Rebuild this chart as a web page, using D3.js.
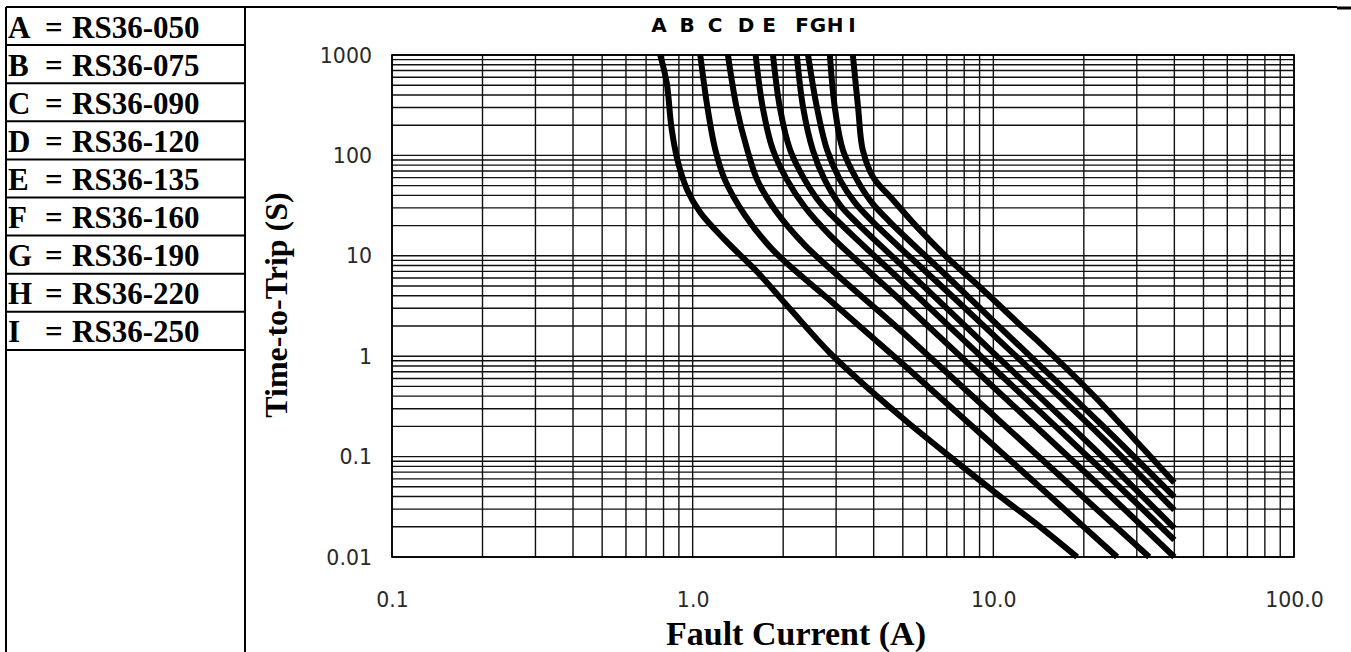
<!DOCTYPE html>
<html>
<head>
<meta charset="utf-8">
<script src="https://cdn.jsdelivr.net/npm/d3@7"></script>
<style>
  body { margin: 0; background: #fff; }
  svg { display: block; }
</style>
</head>
<body>
<script>
(() => {
    // curve letters and part numbers
    let letters = ["A", "B", "C", "D", "E", "F", "G", "H", "I"];
    let parts = ["RS36-050", "RS36-075", "RS36-090", "RS36-120", "RS36-135",
                 "RS36-160", "RS36-190", "RS36-220", "RS36-250"];

    // [fault current (A), time-to-trip (s)]
    let curveA = [[0.78, 1000], [0.82, 525], [0.85, 190], [0.89, 90], [0.96, 45], [1.06, 27],
                  [1.28, 14.4], [1.64, 6.9], [2.11, 2.95], [2.86, 1.08], [3.89, 0.46], [5.28, 0.21],
                  [7.17, 0.10], [10.5, 0.0405], [14.3, 0.02], [19, 0.01]];
    let curveB = [[1.06, 1000], [1.12, 300], [1.19, 113], [1.28, 57], [1.49, 25.5], [1.85, 11.4],
                  [2.86, 3.6], [4.9, 0.88], [10.5, 0.114], [25.8, 0.01]];
    let curveC = [[1.31, 1000], [1.40, 300], [1.52, 113], [1.64, 57], [1.88, 28.6], [2.36, 12.8],
                  [4.9, 1.82], [10.5, 0.226], [33, 0.01]];
    let curveD = [[1.62, 1000], [1.71, 300], [1.85, 113], [2.06, 57], [2.36, 30.6], [2.86, 16.1],
                  [4.9, 3.63], [10.5, 0.43], [22.6, 0.051], [40, 0.01]];
    let curveE = [[1.85, 1000], [1.95, 300], [2.11, 113], [2.36, 57], [2.69, 32.1], [3.21, 18.9],
                  [4.9, 5.74], [10.5, 0.665], [22.6, 0.077], [40, 0.0148]];
    let curveF = [[2.22, 1000], [2.33, 300], [2.51, 113], [2.75, 57], [3.09, 32.1], [3.55, 20.7],
                  [4.9, 8.3], [10.5, 0.94], [22.6, 0.106], [40, 0.0194]];
    let curveG = [[2.42, 1000], [2.59, 300], [2.80, 113], [3.09, 57], [3.47, 33.6], [3.98, 21.7],
                  [7.17, 4.16], [10.5, 1.42], [22.6, 0.164], [40, 0.0294]];
    let curveH = [[2.86, 1000], [2.97, 300], [3.16, 113], [3.52, 57], [3.95, 33.6], [4.53, 21.7],
                  [7.17, 5.87], [10.5, 1.95], [22.6, 0.216], [40, 0.0396]];
    let curveI = [[3.41, 1000], [3.55, 300], [3.68, 113], [3.98, 61], [4.64, 36], [5.57, 19.4],
                  [7.0, 9.7], [9.24, 4.56], [12.5, 1.95], [14.3, 1.35], [21, 0.44], [29, 0.157],
                  [40, 0.055]];
    let curves = [curveA, curveB, curveC, curveD, curveE, curveF, curveG, curveH, curveI];

    let xTicks = [0.1, 1, 10, 100];
    let xTickLabels = ["0.1", "1.0", "10.0", "100.0"];
    let yTicks = [0.01, 0.1, 1, 10, 100, 1000];
    let yTickLabels = ["0.01", "0.1", "1", "10", "100", "1000"];

    let w = 1351;
    let h = 652;
    let left = 392, right = 1294, top = 55, bottom = 557;

    let svg = d3.select("body")
        .append("svg")
        .attr("width", w)
        .attr("height", h);

    // legend table on the left
    let rowH = 38.1;
    let tableTop = 7;
    let table = svg.append("g");
    table.append("line")
        .attr("x1", 6).attr("x2", 6).attr("y1", tableTop).attr("y2", h)
        .attr("stroke", "#000").attr("stroke-width", 2);
    table.append("line")
        .attr("x1", 245).attr("x2", 245).attr("y1", tableTop).attr("y2", h)
        .attr("stroke", "#000").attr("stroke-width", 2);
    table.selectAll(".rowline")
        .data(d3.range(letters.length + 1))
        .enter()
        .append("line")
        .attr("x1", 6).attr("x2", 245)
        .attr("y1", (d) => tableTop + d * rowH)
        .attr("y2", (d) => tableTop + d * rowH)
        .attr("stroke", "#000").attr("stroke-width", 2);

    let rows = table.selectAll(".row")
        .data(letters)
        .enter()
        .append("g")
        .attr("transform", (d, i) => "translate(0," + (tableTop + i * rowH + 30.5) + ")")
        .style("font-family", "'Liberation Serif', 'Times New Roman', serif")
        .style("font-weight", "bold")
        .style("font-size", "31px");
    rows.append("text").attr("x", 8).text((d) => d);
    rows.append("text").attr("x", 45).text("=");
    rows.append("text").attr("x", 72).text((d, i) => parts[i]);

    // top rule
    svg.append("line")
        .attr("x1", 245).attr("x2", 1337).attr("y1", 7).attr("y2", 7)
        .attr("stroke", "#000").attr("stroke-width", 2);
    svg.append("line")
        .attr("x1", 1337).attr("x2", w).attr("y1", 8).attr("y2", 8)
        .attr("stroke", "#000").attr("stroke-width", 3);

    let x = d3.scaleLog().domain([0.1, 100]).range([left, right]);
    let y = d3.scaleLog().domain([0.01, 1000]).range([bottom, top]);

    // grid
    svg.append("g")
        .selectAll("line")
        .data(x.ticks())
        .enter()
        .append("line")
        .attr("x1", (d) => x(d)).attr("x2", (d) => x(d))
        .attr("y1", top).attr("y2", bottom)
        .attr("stroke", "#111").attr("stroke-width", 1.4);
    svg.append("g")
        .selectAll("line")
        .data(y.ticks())
        .enter()
        .append("line")
        .attr("x1", left).attr("x2", right)
        .attr("y1", (d) => y(d)).attr("y2", (d) => y(d))
        .attr("stroke", "#111").attr("stroke-width", 1.4);
    svg.append("rect")
        .attr("x", left).attr("y", top)
        .attr("width", right - left).attr("height", bottom - top)
        .attr("fill", "none").attr("stroke", "#000").attr("stroke-width", 1.7);

    // tick labels
    let xAxis = svg.append("g")
        .attr("transform", "translate(0," + (bottom + 30) + ")")
        .call(d3.axisBottom(x).tickValues(xTicks).tickSize(0)
            .tickFormat((d, i) => xTickLabels[i]));
    let yAxis = svg.append("g")
        .attr("transform", "translate(" + (left - 20) + ",0)")
        .call(d3.axisLeft(y).tickValues(yTicks).tickSize(0)
            .tickFormat((d, i) => yTickLabels[i]));
    [xAxis, yAxis].forEach((g) => {
        g.select(".domain").remove();
        g.selectAll("text")
            .style("font-family", "'DejaVu Sans', Verdana, sans-serif")
            .style("font-size", "20.5px")
            .attr("fill", "#2a2a2a");
    });
    xAxis.selectAll("text").attr("dy", "0.85em");
    yAxis.selectAll("text").attr("x", 0).attr("dy", "0.35em");

    // curves
    let line = d3.line()
        .x((d) => x(d[0]))
        .y((d) => y(d[1]))
        .curve(d3.curveCatmullRom.alpha(0.5));
    svg.append("g")
        .selectAll("path")
        .data(curves)
        .enter()
        .append("path")
        .attr("d", line)
        .attr("fill", "none")
        .attr("stroke", "#000")
        .attr("stroke-width", 6)
        .attr("stroke-linejoin", "round");

    // curve letters above the plot
    let topLabelX = [659, 687, 715, 746, 769, 802, 818, 835, 852];
    svg.append("g")
        .selectAll("text")
        .data(letters)
        .enter()
        .append("text")
        .attr("x", (d, i) => topLabelX[i])
        .attr("y", 32)
        .attr("text-anchor", "middle")
        .style("font-family", "'DejaVu Sans', Arial, sans-serif")
        .style("font-weight", "bold")
        .style("font-size", "20px")
        .text((d) => d);

    // axis titles
    svg.append("text")
        .attr("transform", "translate(287,305) rotate(-90)")
        .attr("text-anchor", "middle")
        .style("font-family", "'Liberation Serif', 'Times New Roman', serif")
        .style("font-weight", "bold")
        .style("font-size", "32px")
        .text("Time-to-Trip (S)");
    svg.append("text")
        .attr("x", 796)
        .attr("y", 645)
        .attr("text-anchor", "middle")
        .style("font-family", "'Liberation Serif', 'Times New Roman', serif")
        .style("font-weight", "bold")
        .style("font-size", "34px")
        .text("Fault Current (A)");
})();
</script>
</body>
</html>
